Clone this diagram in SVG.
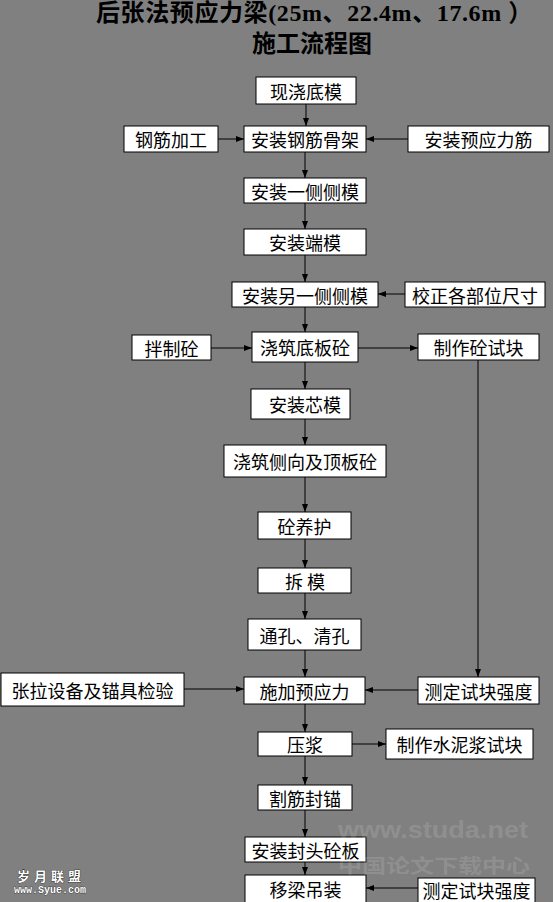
<svg xmlns="http://www.w3.org/2000/svg" width="553" height="902" viewBox="0 0 553 902">
<style>
.bg{fill:#808080}
.box rect{fill:#fff;stroke:#000;stroke-width:1}
.box text{font-family:"Noto Sans CJK SC","Noto Sans CJK TC",sans-serif;font-size:18px;fill:#000;text-anchor:middle;dominant-baseline:central}
.title{font-family:"Liberation Serif","Noto Sans CJK SC",serif;font-weight:bold;font-size:24px;fill:#000}
#connectors path{fill:none;stroke:#000;stroke-width:1;marker-end:url(#ah)}
.wm{font-weight:bold;fill:#fff;fill-opacity:0.14}
</style>
<defs>
<marker id="ah" markerUnits="userSpaceOnUse" markerWidth="8" markerHeight="6" refX="8" refY="3" orient="auto">
<path d="M0,0 L8,3 L0,6 z" fill="#000"/>
</marker>
</defs>
<rect class="bg" x="0" y="0" width="553" height="902"/>
<g id="title">
<text class="title" x="96" y="21" letter-spacing="0.6">后张法预应力梁(25m、22.4m、17.6m ）</text>
<text class="title" x="312" y="52" text-anchor="middle">施工流程图</text>
</g>
<g id="connectors">
<path d="M306,104 V126"/>
<path d="M218,139 H244"/>
<path d="M408,139 H366"/>
<path d="M305,152 V178"/>
<path d="M305,203 V229"/>
<path d="M305,255 V282"/>
<path d="M405,294 H378"/>
<path d="M305,307 V332"/>
<path d="M211,348 H252"/>
<path d="M358,348 H418"/>
<path d="M305,362 V389"/>
<path d="M305,419 V445"/>
<path d="M305,477 V512"/>
<path d="M305,539 V568"/>
<path d="M305,593 V619"/>
<path d="M305,650 V677"/>
<path d="M478,360 V677"/>
<path d="M184,689 H244"/>
<path d="M418,690 H365"/>
<path d="M305,704 V732"/>
<path d="M352,744 H386"/>
<path d="M305,756 V785"/>
<path d="M305,810 V837"/>
<path d="M305,862 V875"/>
<path d="M418,888 H366"/>
</g>
<g id="n1" class="box"><rect x="256" y="77" width="100" height="27"/><text x="306" y="90.5">现浇底模</text></g>
<g id="n2" class="box"><rect x="124" y="126" width="94" height="26"/><text x="171" y="139">钢筋加工</text></g>
<g id="n3" class="box"><rect x="244" y="126" width="122" height="26"/><text x="305" y="139">安装钢筋骨架</text></g>
<g id="n4" class="box"><rect x="408" y="126" width="141" height="26"/><text x="478.5" y="139">安装预应力筋</text></g>
<g id="n5" class="box"><rect x="244" y="178" width="122" height="25"/><text x="305" y="190.5">安装一侧侧模</text></g>
<g id="n6" class="box"><rect x="244" y="229" width="122" height="26"/><text x="305" y="242">安装端模</text></g>
<g id="n7" class="box"><rect x="232" y="282" width="146" height="25"/><text x="305" y="294.5">安装另一侧侧模</text></g>
<g id="n8" class="box"><rect x="405" y="282" width="140" height="25"/><text x="475" y="294.5">校正各部位尺寸</text></g>
<g id="n9" class="box"><rect x="132" y="335" width="79" height="25"/><text x="171.5" y="347.5">拌制砼</text></g>
<g id="n10" class="box"><rect x="252" y="332" width="106" height="30"/><text x="305" y="347">浇筑底板砼</text></g>
<g id="n11" class="box"><rect x="418" y="334" width="121" height="26"/><text x="478.5" y="347">制作砼试块</text></g>
<g id="n12" class="box"><rect x="251" y="389" width="99" height="30"/><text x="305" y="404">安装芯模</text></g>
<g id="n13" class="box"><rect x="224" y="445" width="162" height="32"/><text x="305" y="461">浇筑侧向及顶板砼</text></g>
<g id="n14" class="box"><rect x="258" y="512" width="93" height="27"/><text x="304.5" y="525.5">砼养护</text></g>
<g id="n15" class="box"><rect x="258" y="568" width="93" height="25"/><text x="305" y="580.5">拆 模</text></g>
<g id="n16" class="box"><rect x="248" y="619" width="113" height="31"/><text x="304.5" y="634.5">通孔、清孔</text></g>
<g id="n17" class="box"><rect x="1" y="673" width="183" height="33"/><text x="92.5" y="689.5">张拉设备及锚具检验</text></g>
<g id="n18" class="box"><rect x="244" y="677" width="121" height="27"/><text x="304.5" y="690.5">施加预应力</text></g>
<g id="n19" class="box"><rect x="418" y="677" width="121" height="27"/><text x="478.5" y="690.5">测定试块强度</text></g>
<g id="n20" class="box"><rect x="258" y="732" width="94" height="24"/><text x="305" y="744">压浆</text></g>
<g id="n21" class="box"><rect x="386" y="729" width="147" height="30"/><text x="459.5" y="744">制作水泥浆试块</text></g>
<g id="n22" class="box"><rect x="258" y="785" width="94" height="25"/><text x="305" y="797.5">割筋封锚</text></g>
<g id="n23" class="box"><rect x="245" y="837" width="121" height="25"/><text x="305.5" y="849.5">安装封头砼板</text></g>
<g id="n24" class="box"><rect x="245" y="875" width="121" height="30"/><text x="305.5" y="889">移梁吊装</text></g>
<g id="n25" class="box"><rect x="418" y="878" width="117" height="30"/><text x="476.5" y="890">测定试块强度</text></g>
<g id="watermark">
<text class="wm" x="338" y="838" font-family="Liberation Sans, sans-serif" font-size="24" textLength="190" lengthAdjust="spacingAndGlyphs">www.studa.net</text>
<text class="wm" x="338" y="873" font-family="Noto Sans CJK SC, sans-serif" font-size="19" textLength="192" lengthAdjust="spacingAndGlyphs">中国论文下载中心</text>
<text x="17" y="881" font-family="Noto Sans CJK SC, sans-serif" font-size="13" font-weight="bold" fill="#fff" stroke="#000" stroke-width="0.6" paint-order="stroke" letter-spacing="4">岁月联盟</text>
<text x="14" y="893" font-family="Liberation Mono, monospace" font-size="10" font-weight="bold" fill="#fff" stroke="#000" stroke-width="0.5" paint-order="stroke">www.Syue.com</text>
</g>
</svg>
